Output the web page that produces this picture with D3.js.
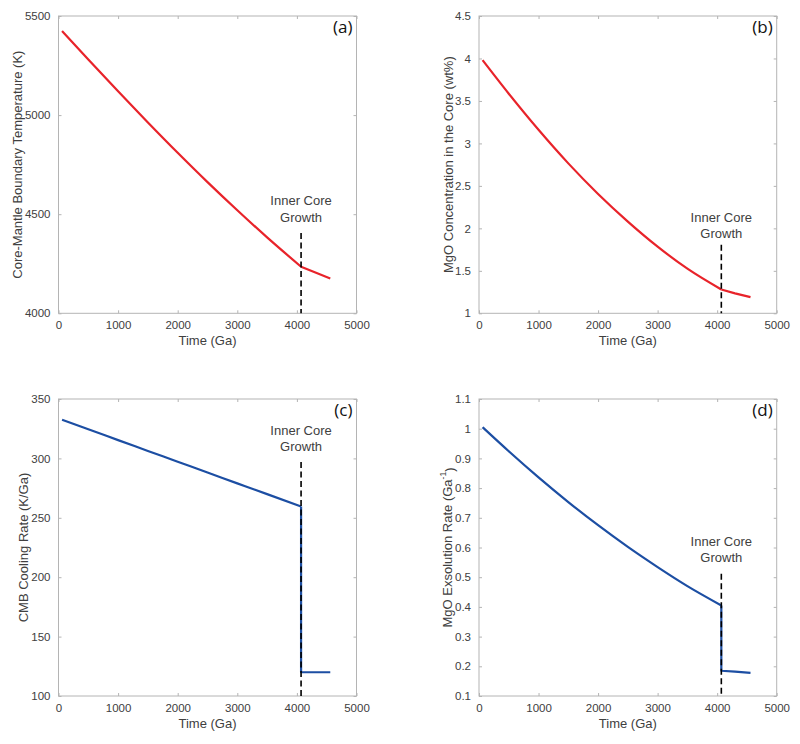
<!DOCTYPE html>
<html>
<head>
<meta charset="utf-8">
<script src="https://cdn.jsdelivr.net/npm/d3@7"></script>
<style>
  html, body { margin: 0; padding: 0; background: #fff; }
  svg { display: block; }
</style>
</head>
<body>
<svg id="chart" width="800" height="744"></svg>
<script>
// ---------------- DATA ----------------
// time before inner-core nucleation and after it
const timePre  = [60, 500, 1000, 1500, 2000, 2500, 3000, 3500, 4070];
const timePost = [4070, 4300, 4560];
const innerCoreTime = 4070;

// (a) Core-mantle boundary temperature (K)
const cmbTempPre  = [5424, 5280, 5120, 4963, 4810, 4662, 4520, 4383, 4235];
const cmbTempPost = [4235, 4207, 4176];

// (b) MgO concentration in the core (wt%)
const mgoConcPre  = [3.98, 3.585, 3.16, 2.765, 2.405, 2.08, 1.785, 1.525, 1.28];
const mgoConcPost = [1.28, 1.235, 1.19];

// (c) CMB cooling rate (K/Ga)
const coolRatePre  = [332.5, 324.5, 315.4, 306.3, 297.2, 288.1, 279, 269.9, 259.5];
const coolRatePost = [120, 120, 120];

// (d) MgO exsolution rate (Ga^-1)
const exsolRatePre  = [1.005, 0.924, 0.836, 0.753, 0.675, 0.602, 0.534, 0.470, 0.405];
const exsolRatePost = [0.185, 0.182, 0.178];

// dashed "Inner Core Growth" marker top value per panel
const dashTopA = 4405, dashTopB = 1.806, dashTopC = 297, dashTopD = 0.512;

// ticks
const xTicks = [0, 1000, 2000, 3000, 4000, 5000];
const xTickLabels = ["0", "1000", "2000", "3000", "4000", "5000"];
const yTicksA = [4000, 4500, 5000, 5500];
const yTickLabelsA = ["4000", "4500", "5000", "5500"];
const yTicksB = [1, 1.5, 2, 2.5, 3, 3.5, 4, 4.5];
const yTickLabelsB = ["1", "1.5", "2", "2.5", "3", "3.5", "4", "4.5"];
const yTicksC = [100, 150, 200, 250, 300, 350];
const yTickLabelsC = ["100", "150", "200", "250", "300", "350"];
const yTicksD = [0.1, 0.2, 0.3, 0.4, 0.5, 0.6, 0.7, 0.8, 0.9, 1, 1.1];
const yTickLabelsD = ["0.1", "0.2", "0.3", "0.4", "0.5", "0.6", "0.7", "0.8", "0.9", "1", "1.1"];

const xLabel = "Time (Ga)";
const yLabels = [
  "Core-Mantle Boundary Temperature (K)",
  "MgO Concentration in the Core (wt%)",
  "CMB Cooling Rate (K/Ga)",
  "MgO Exsolution Rate (Ga"
];
const panelLetters = ["(a)", "(b)", "(c)", "(d)"];
const annotLines = ["Inner Core", "Growth"];

// ---------------- LAYOUT ----------------
const RED = "#e8232a", BLUE = "#1c4ea3";
const FONT = "'Liberation Sans', Arial, Helvetica, sans-serif";
const TXT = "#404040", FRAME = "#b4b4b4";

const panels = [
  { x0: 58.5, x1: 356.5, y0: 16, y1: 313.3, yDom: [4000, 5500], yT: yTicksA, yTL: yTickLabelsA,
    pre: cmbTempPre, post: cmbTempPost, color: RED, dashTop: dashTopA, label: yLabels[0], labelX: 17,
    letter: panelLetters[0], ann: [205, 221.5], drop: false },
  { x0: 479, x1: 776.7, y0: 16, y1: 313.3, yDom: [1, 4.5], yT: yTicksB, yTL: yTickLabelsB,
    pre: mgoConcPre, post: mgoConcPost, color: RED, dashTop: dashTopB, label: yLabels[1], labelX: 448,
    letter: panelLetters[1], ann: [221.7, 238.3], drop: false },
  { x0: 58.5, x1: 356.5, y0: 399, y1: 696, yDom: [100, 350], yT: yTicksC, yTL: yTickLabelsC,
    pre: coolRatePre, post: coolRatePost, color: BLUE, dashTop: dashTopC, label: yLabels[2], labelX: 23,
    letter: panelLetters[2], ann: [435, 450.7], drop: true },
  { x0: 479, x1: 776.7, y0: 399, y1: 696, yDom: [0.1, 1.1], yT: yTicksD, yTL: yTickLabelsD,
    pre: exsolRatePre, post: exsolRatePost, color: BLUE, dashTop: dashTopD, label: yLabels[3], labelX: 447,
    letter: panelLetters[3], ann: [545.7, 561.7], drop: true, sup: true }
];

const svg = d3.select("#chart");
svg.append("rect").attr("width", 800).attr("height", 744).attr("fill", "#fff");

panels.forEach(p => {
  const x = d3.scaleLinear().domain([0, 5000]).range([p.x0, p.x1]);
  const y = d3.scaleLinear().domain(p.yDom).range([p.y1, p.y0]);
  const g = svg.append("g");
  const tl = 3;

  // frame
  g.append("rect").attr("x", p.x0).attr("y", p.y0)
    .attr("width", p.x1 - p.x0).attr("height", p.y1 - p.y0)
    .attr("fill", "none").attr("stroke", FRAME).attr("stroke-width", 1);

  // axes via d3 (inner ticks)
  const xb = d3.axisBottom(x).tickValues(xTicks).tickFormat((d, i) => xTickLabels[i]).tickSizeInner(-tl).tickSizeOuter(0).tickPadding(8);
  const xt = d3.axisTop(x).tickValues(xTicks).tickFormat("").tickSizeInner(-tl).tickSizeOuter(0);
  const yl = d3.axisLeft(y).tickValues(p.yT).tickFormat((d, i) => p.yTL[i]).tickSizeInner(-tl).tickSizeOuter(0).tickPadding(8);
  const yr = d3.axisRight(y).tickValues(p.yT).tickFormat("").tickSizeInner(-tl).tickSizeOuter(0);

  [[xb, `translate(0,${p.y1})`], [xt, `translate(0,${p.y0})`], [yl, `translate(${p.x0},0)`], [yr, `translate(${p.x1},0)`]]
    .forEach(([ax, tr]) => {
      const a = g.append("g").attr("transform", tr).call(ax);
      a.select(".domain").remove();
      a.selectAll("line").attr("stroke", FRAME);
      a.selectAll("text").attr("fill", TXT).style("font-family", FONT).style("font-size", "11.5px");
    });

  // series
  const line = d3.line().x(d => x(d[0])).y(d => y(d[1]));
  const preData = timePre.map((t, i) => [t, p.pre[i]]);
  let postData = timePost.map((t, i) => [t, p.post[i]]);
  if (p.drop) postData = [[innerCoreTime, p.pre[p.pre.length - 1]]].concat(postData);
  g.append("path").datum(preData).attr("d", line.curve(d3.curveMonotoneX))
    .attr("fill", "none").attr("stroke", p.color).attr("stroke-width", 2.2).attr("stroke-linejoin", "round");
  g.append("path").datum(postData).attr("d", line.curve(d3.curveLinear))
    .attr("fill", "none").attr("stroke", p.color).attr("stroke-width", 2.2).attr("stroke-linejoin", "round");

  // dashed marker
  g.append("line")
    .attr("x1", x(innerCoreTime)).attr("x2", x(innerCoreTime))
    .attr("y1", y(p.dashTop)).attr("y2", y(p.yDom[0]))
    .attr("stroke", "#000").attr("stroke-width", 1.6).attr("stroke-dasharray", "6,3.5");

  // annotation
  annotLines.forEach((s, i) => {
    g.append("text").attr("x", x(innerCoreTime)).attr("y", p.ann[i])
      .attr("text-anchor", "middle").attr("fill", TXT)
      .style("font-family", FONT).style("font-size", "13px").text(s);
  });

  // panel letter
  g.append("text").attr("x", p.x1 - 4).attr("y", p.y0 + 17)
    .attr("text-anchor", "end").attr("fill", "#111")
    .style("font-family", "'Open Sans', 'Noto Sans', sans-serif").style("font-size", "17px").text(p.letter);

  // x label
  g.append("text").attr("x", (p.x0 + p.x1) / 2).attr("y", p.y1 + 32)
    .attr("text-anchor", "middle").attr("fill", TXT)
    .style("font-family", FONT).style("font-size", "13px").text(xLabel);

  // y label
  const yt = g.append("text")
    .attr("transform", `translate(${p.labelX},${(p.y0 + p.y1) / 2}) rotate(-90)`)
    .attr("text-anchor", "middle").attr("dominant-baseline", "central").attr("fill", TXT)
    .style("font-family", FONT).style("font-size", "13px");
  yt.append("tspan").text(p.label);
  if (p.sup) {
    yt.append("tspan").attr("dy", "-0.45em").style("font-size", "8.5px").text("-1");
    yt.append("tspan").attr("dy", "0.45em").text(")");
  }
});
</script>
</body>
</html>
